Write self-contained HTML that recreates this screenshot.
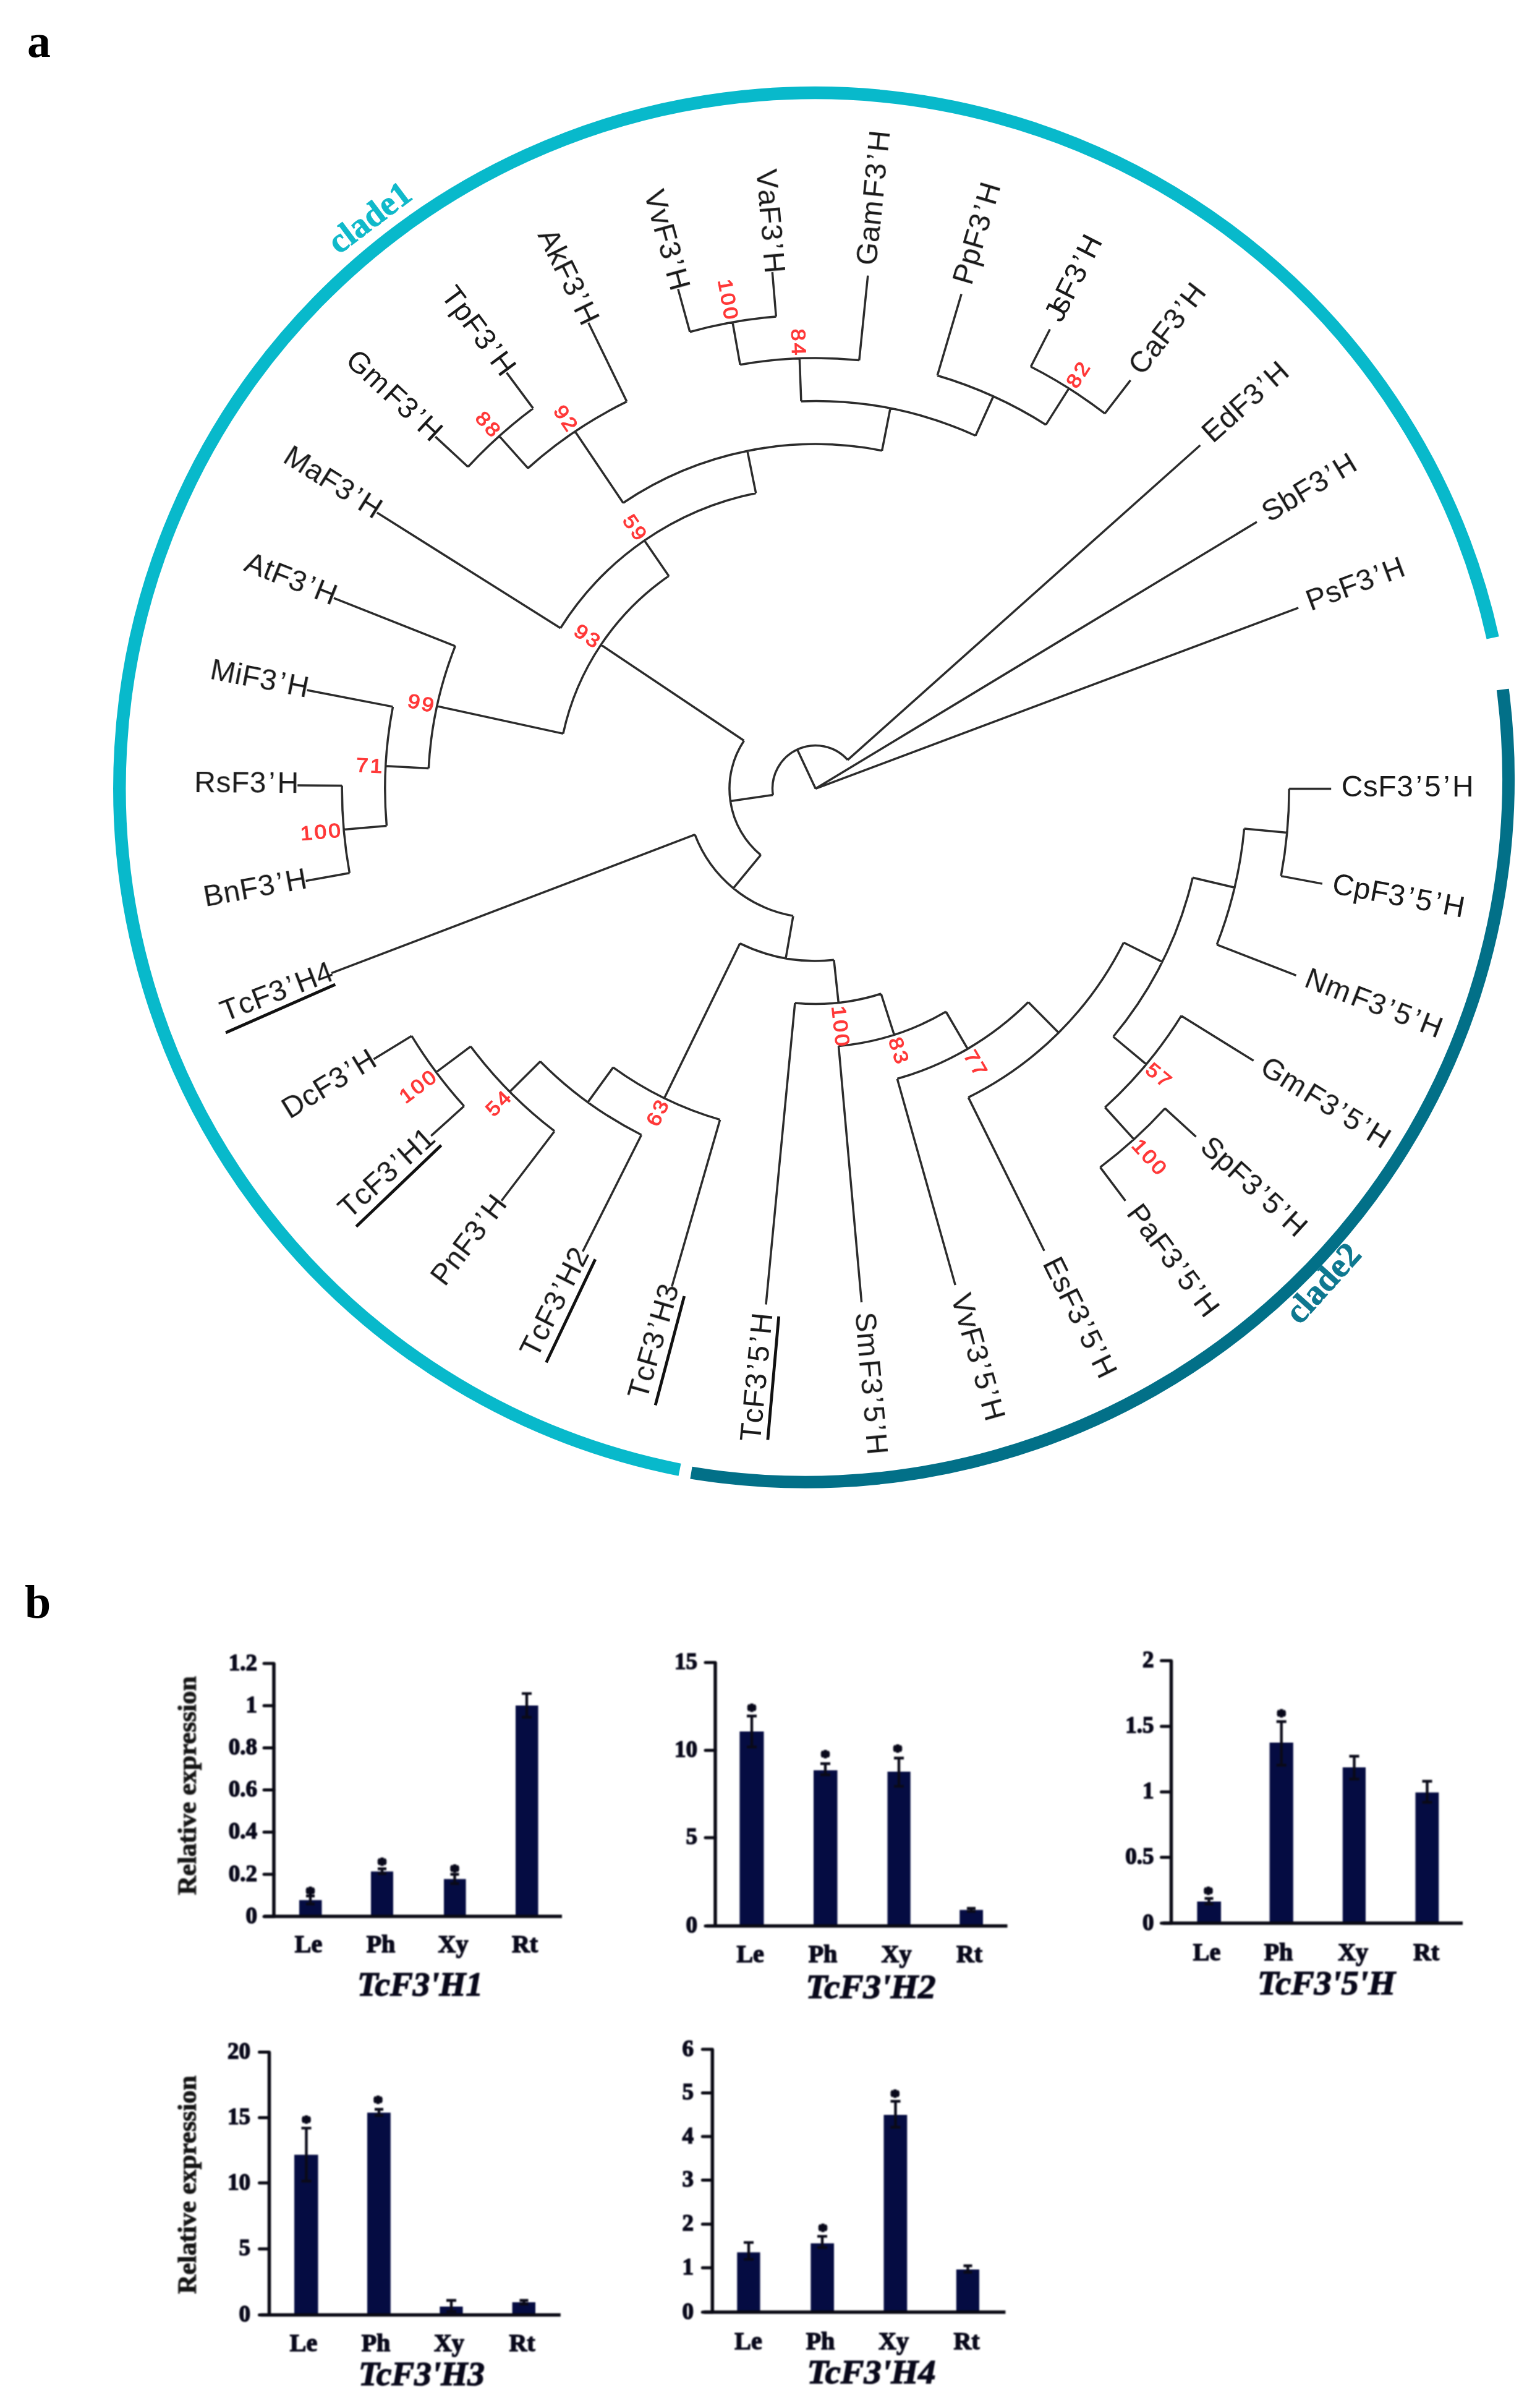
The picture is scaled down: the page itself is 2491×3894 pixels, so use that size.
<!DOCTYPE html>
<html><head><meta charset="utf-8"><title>Phylogenetic tree and expression</title>
<style>
html,body{margin:0;padding:0;background:#fff;}
body{width:2491px;height:3894px;overflow:hidden;}
svg{display:block;}
</style></head><body>
<svg width="2491" height="3894" viewBox="0 0 2491 3894">
<rect width="2491" height="3894" fill="#fff"/>
<g style="filter:blur(0.7px)">
<path d="M1319.2 1275.3L1289.7 1212.2M1319.2 1275.3L2033 844M1319.2 1275.3L2100.2 982.8M1371.2 1228.9A69.6 69.6 0 0 0 1250.3 1285.4M1371.2 1228.9L1941.4 720M1250.3 1285.4L1181.4 1295.4M1203.5 1197.8A139.3 139.3 0 0 0 1230.5 1382.7M1203.5 1197.8L972.1 1042.7M1230.5 1382.7L1186.2 1436.4M1081.8 931.4A417.8 417.8 0 0 0 910.9 1186.4M1081.8 931.4L1042.3 874.1M910.9 1186.4L706.8 1141.9M1222.7 797.5A487.5 487.5 0 0 0 906.6 1015.7M906.6 1015.7L609.9 829M1222.7 797.5L1208.9 729.2M1426.7 728.7A557.1 557.1 0 0 0 1008 813.2M1426.7 728.7L1440.1 660.3M1008 813.2L930.2 697.7M1578 704.5A626.8 626.8 0 0 0 1295.9 649M1578 704.5L1606.7 641M1295.9 649L1293.3 579.4M1691.8 686.9A696.4 696.4 0 0 0 1516.2 607.3M1691.8 686.9L1729 628.1M1516.2 607.3L1555.1 475.4M1787.1 668.7A766 766 0 0 0 1667.4 593M1787.1 668.7L1828.6 614.9M1667.4 593L1698.3 532.5M1389.8 582.5A696.4 696.4 0 0 0 1197.2 589.7M1389.8 582.5L1403.8 445.6M1197.2 589.7L1185 521.1M1255.3 511.9A766 766 0 0 0 1115.9 536.7M1255.3 511.9L1249.3 440.2M1115.9 536.7L1096.8 467.4M1013.9 649.4A696.4 696.4 0 0 0 854 757.1M1013.9 649.4L951.8 522.1M854 757.1L807.5 705.2M862.4 660.4A766 766 0 0 0 757 755M862.4 660.4L819.5 602.6M757 755L704.2 706.1M736.3 1044.9A626.8 626.8 0 0 0 693.3 1242.4M736.3 1044.9L539.9 967.2M693.3 1242.4L623.8 1238.8M635.5 1142.9A696.4 696.4 0 0 0 625.4 1335.4M635.5 1142.9L496.5 1116M625.4 1335.4L556 1341.4M553.2 1270.6A766 766 0 0 0 565.4 1411.7M553.2 1270.6L481.2 1270.1M565.4 1411.7L494.6 1424.5M1124 1349.7A208.9 208.9 0 0 0 1283 1481.1M1124 1349.7L536.1 1573.7M1283 1481.1L1271 1549.7M1196.9 1525.6A278.6 278.6 0 0 0 1348.9 1552.3M1196.9 1525.6L1074.6 1775.8M1348.9 1552.3L1356.3 1621.5M991.8 1726.1A557.1 557.1 0 0 0 1164.7 1810.6M991.8 1726.1L950.9 1782.4M1164.7 1810.6L1086.8 2080.4M873.9 1716.4A626.8 626.8 0 0 0 1037.5 1835.2M873.9 1716.4L824.5 1765.4M1037.5 1835.2L942.6 2023.9M761.4 1692.2A696.4 696.4 0 0 0 897 1829.2M761.4 1692.2L705.6 1733.9M897 1829.2L811.2 1941.8M665.8 1675.2A766 766 0 0 0 750.6 1788.7M665.8 1675.2L604.5 1712.8M750.6 1788.7L697.2 1836.9M1285.9 1621.9A348.2 348.2 0 0 0 1425.1 1607M1285.9 1621.9L1239 2109.5M1425.1 1607L1446.3 1673.3M1356.5 1691.5A417.8 417.8 0 0 0 1530.1 1636M1356.5 1691.5L1393.6 2106M1530.1 1636L1565.2 1696.1M1451.3 1744.5A487.5 487.5 0 0 0 1663.3 1620.6M1451.3 1744.5L1545.2 2078.1M1663.3 1620.6L1712.4 1670M1566.3 1774.6A557.1 557.1 0 0 0 1817.6 1524.2M1566.3 1774.6L1689.1 2022.8M1817.6 1524.2L1879.9 1555.4M1800.7 1676.5A626.8 626.8 0 0 0 1929.2 1419.3M1800.7 1676.5L1854.2 1721.1M1929.2 1419.3L1997 1435.3M1787.4 1790.8A696.4 696.4 0 0 0 1910.8 1642.7M1787.4 1790.8L1834.2 1842.4M1910.8 1642.7L2027.7 1715.3M1779.6 1887.6A766 766 0 0 0 1884.4 1792.4M1779.6 1887.6L1820.4 1941.9M1884.4 1792.4L1934.6 1838.2M1968.3 1527.6A696.4 696.4 0 0 0 2012.6 1339.9M1968.3 1527.6L2096.6 1577.4M2012.6 1339.9L2081.9 1346.4M2072.1 1416.6A766 766 0 0 0 2085.2 1275.6M2072.1 1416.6L2138.9 1429.1M2085.2 1275.6L2153.2 1275.6" fill="none" stroke="#2c2c2c" stroke-width="3.5" stroke-linejoin="miter" stroke-linecap="butt"/>
<g font-family="'Liberation Sans', Arial, sans-serif" font-size="48" fill="#1a1a1a" letter-spacing="0.5" style="font-kerning:none">
<text transform="translate(2169.7 1275.6) rotate(-360) scale(1.0 1)" y="12">CsF3<tspan dx="3.5">’</tspan><tspan dx="3">5</tspan><tspan dx="3.5">’</tspan><tspan dx="3">H</tspan></text>
<text transform="translate(2115.7 977) rotate(-20.5) scale(1.0 1)" y="12">PsF3<tspan dx="3.5">’</tspan><tspan dx="3">H</tspan></text>
<text transform="translate(2047.2 835.5) rotate(-31.1) scale(1.0 1)" y="12">SbF3<tspan dx="3.5">’</tspan><tspan dx="3">H</tspan></text>
<text transform="translate(1953.8 709) rotate(-41.7) scale(1.0 1)" y="12">EdF3<tspan dx="3.5">’</tspan><tspan dx="3">H</tspan></text>
<text transform="translate(1838.7 601.9) rotate(-52.4) scale(1.0 1)" y="12">CaF3<tspan dx="3.5">’</tspan><tspan dx="3">H</tspan></text>
<text transform="translate(1705.8 517.8) rotate(-63) scale(1.0 1)" y="12">J<tspan dx="-9">s</tspan>F3<tspan dx="3.5">’</tspan><tspan dx="3">H</tspan></text>
<text transform="translate(1559.8 459.5) rotate(-73.6) scale(1.0 1)" y="12">PpF3<tspan dx="3.5">’</tspan><tspan dx="3">H</tspan></text>
<text transform="translate(1405.5 429.2) rotate(-84.2) scale(1.0 1)" y="12">Gam<tspan dx="4">F</tspan>3<tspan dx="3.5">’</tspan><tspan dx="3">H</tspan></text>
<text transform="translate(1249.5 442.7) rotate(85.2) scale(1.0 1)" y="12" text-anchor="end">VaF3<tspan dx="3.5">’</tspan><tspan dx="3">H</tspan></text>
<text transform="translate(1097.4 469.8) rotate(74.6) scale(1.0 1)" y="12" text-anchor="end">VvF3<tspan dx="3.5">’</tspan><tspan dx="3">H</tspan></text>
<text transform="translate(952.9 524.4) rotate(64) scale(1.0 1)" y="12" text-anchor="end">AkF3<tspan dx="3.5">’</tspan><tspan dx="3">H</tspan></text>
<text transform="translate(821 604.6) rotate(53.4) scale(1.0 1)" y="12" text-anchor="end">TpF3<tspan dx="3.5">’</tspan><tspan dx="3">H</tspan></text>
<text transform="translate(706 707.8) rotate(42.8) scale(1.0 1)" y="12" text-anchor="end">Gm<tspan dx="4">F</tspan>3<tspan dx="3.5">’</tspan><tspan dx="3">H</tspan></text>
<text transform="translate(612 830.4) rotate(32.2) scale(1.0 1)" y="12" text-anchor="end">MaF3<tspan dx="3.5">’</tspan><tspan dx="3">H</tspan></text>
<text transform="translate(542.2 968.2) rotate(21.6) scale(1.0 1)" y="12" text-anchor="end">AtF3<tspan dx="3.5">’</tspan><tspan dx="3">H</tspan></text>
<text transform="translate(498.9 1116.4) rotate(11) scale(1.0 1)" y="12" text-anchor="end">MiF3<tspan dx="3.5">’</tspan><tspan dx="3">H</tspan></text>
<text transform="translate(483.7 1270.2) rotate(0.4) scale(1.0 1)" y="12" text-anchor="end">RsF3<tspan dx="3.5">’</tspan><tspan dx="3">H</tspan></text>
<text transform="translate(497 1424) rotate(-10.3) scale(1.0 1)" y="12" text-anchor="end">BnF3<tspan dx="3.5">’</tspan><tspan dx="3">H</tspan></text>
<text transform="translate(538.5 1572.8) rotate(-20.9) scale(1.0 1)" y="12" text-anchor="end">TcF3<tspan dx="3.5">’</tspan><tspan dx="3">H</tspan>4</text>
<text transform="translate(606.6 1711.5) rotate(-31.5) scale(1.0 1)" y="12" text-anchor="end">DcF3<tspan dx="3.5">’</tspan><tspan dx="3">H</tspan></text>
<text transform="translate(699.1 1835.2) rotate(-42.1) scale(1.0 1)" y="12" text-anchor="end">TcF3<tspan dx="3.5">’</tspan><tspan dx="3">H</tspan>1</text>
<text transform="translate(812.7 1939.8) rotate(-52.7) scale(1.0 1)" y="12" text-anchor="end">PnF3<tspan dx="3.5">’</tspan><tspan dx="3">H</tspan></text>
<text transform="translate(943.7 2021.7) rotate(-63.3) scale(1.0 1)" y="12" text-anchor="end">TcF3<tspan dx="3.5">’</tspan><tspan dx="3">H</tspan>2</text>
<text transform="translate(1087.5 2078) rotate(-73.9) scale(1.0 1)" y="12" text-anchor="end">TcF3<tspan dx="3.5">’</tspan><tspan dx="3">H</tspan>3</text>
<text transform="translate(1237.7 2122.9) rotate(-84.5) scale(1.0 1)" y="12" text-anchor="end">TcF3<tspan dx="3.5">’</tspan><tspan dx="3">5</tspan><tspan dx="3.5">’</tspan><tspan dx="3">H</tspan></text>
<text transform="translate(1395 2122.4) rotate(-275.1) scale(1.0 1)" y="12">Sm<tspan dx="4">F</tspan>3<tspan dx="3.5">’</tspan><tspan dx="3">5</tspan><tspan dx="3.5">’</tspan><tspan dx="3">H</tspan></text>
<text transform="translate(1549.7 2094) rotate(-285.7) scale(1.0 1)" y="12">VvF3<tspan dx="3.5">’</tspan><tspan dx="3">5</tspan><tspan dx="3.5">’</tspan><tspan dx="3">H</tspan></text>
<text transform="translate(1696.5 2037.6) rotate(-296.3) scale(1.0 1)" y="12">EsF3<tspan dx="3.5">’</tspan><tspan dx="3">5</tspan><tspan dx="3.5">’</tspan><tspan dx="3">H</tspan></text>
<text transform="translate(1830.3 1955.1) rotate(-306.9) scale(1.0 1)" y="12">PaF3<tspan dx="3.5">’</tspan><tspan dx="3">5</tspan><tspan dx="3.5">’</tspan><tspan dx="3">H</tspan></text>
<text transform="translate(1946.7 1849.4) rotate(-317.5) scale(1.0 1)" y="12">SpF3<tspan dx="3.5">’</tspan><tspan dx="3">5</tspan><tspan dx="3.5">’</tspan><tspan dx="3">H</tspan></text>
<text transform="translate(2041.7 1724) rotate(-328.2) scale(1.0 1)" y="12">Gm<tspan dx="4">F</tspan>3<tspan dx="3.5">’</tspan><tspan dx="3">5</tspan><tspan dx="3.5">’</tspan><tspan dx="3">H</tspan></text>
<text transform="translate(2111.9 1583.4) rotate(-338.8) scale(1.0 1)" y="12">Nm<tspan dx="4">F</tspan>3<tspan dx="3.5">’</tspan><tspan dx="3">5</tspan><tspan dx="3.5">’</tspan><tspan dx="3">H</tspan></text>
<text transform="translate(2155.1 1432.2) rotate(-349.4) scale(1.0 1)" y="12">CpF3<tspan dx="3.5">’</tspan><tspan dx="3">5</tspan><tspan dx="3.5">’</tspan><tspan dx="3">H</tspan></text>
</g>
<path d="M365.1 1670L542.3 1592M576.2 1983.6L713.7 1851.9M883.6 2203.2L962.9 2036.4M1060.1 2272.3L1106.8 2096M1241.9 2328.4L1259.7 2128.8" stroke="#111" stroke-width="4.8" fill="none"/>
<g font-family="'Liberation Sans', Arial, sans-serif" font-size="32" fill="#ff3838" stroke="#ff3838" stroke-width="1.1" letter-spacing="3">
<text transform="translate(970.5 1041.5) rotate(33.8) scale(1.1 1)" y="11.5" text-anchor="end">93</text>
<text transform="translate(1041.1 872.5) rotate(55.4) scale(1.1 1)" y="11.5" text-anchor="end">59</text>
<text transform="translate(1731.7 623.9) rotate(-57.7) scale(1.1 1)" y="11.5">82</text>
<text transform="translate(1293.2 577.4) rotate(87.9) scale(1.1 1)" y="11.5" text-anchor="end">84</text>
<text transform="translate(1184.7 519.1) rotate(79.9) scale(1.1 1)" y="11.5" text-anchor="end">100</text>
<text transform="translate(929.1 696) rotate(56) scale(1.1 1)" y="11.5" text-anchor="end">92</text>
<text transform="translate(806.2 703.7) rotate(48.1) scale(1.1 1)" y="11.5" text-anchor="end">88</text>
<text transform="translate(704.8 1141.5) rotate(12.3) scale(1.1 1)" y="11.5" text-anchor="end">99</text>
<text transform="translate(621.8 1238.7) rotate(3) scale(1.1 1)" y="11.5" text-anchor="end">71</text>
<text transform="translate(554 1341.6) rotate(-5) scale(1.1 1)" y="11.5" text-anchor="end">100</text>
<text transform="translate(1073.7 1777.6) rotate(-64) scale(1.1 1)" y="11.5" text-anchor="end">63</text>
<text transform="translate(823 1766.8) rotate(-44.7) scale(1.1 1)" y="11.5" text-anchor="end">54</text>
<text transform="translate(704 1735.1) rotate(-36.8) scale(1.1 1)" y="11.5" text-anchor="end">100</text>
<text transform="translate(1356.8 1626.5) rotate(-276.1) scale(1.1 1)" y="11.5">100</text>
<text transform="translate(1447.8 1678.1) rotate(-287.7) scale(1.1 1)" y="11.5">83</text>
<text transform="translate(1567.7 1700.5) rotate(-300.3) scale(1.1 1)" y="11.5">77</text>
<text transform="translate(1858.1 1724.3) rotate(-320.2) scale(1.1 1)" y="11.5">57</text>
<text transform="translate(1837.6 1846.1) rotate(-312.2) scale(1.1 1)" y="11.5">100</text>
</g>
<path d="M2414.6 1031.4A1123.9 1123.9 0 1 0 1099.5 2376.7" fill="none" stroke="#08b9cb" stroke-width="20.5"/>
<path d="M1118 2381.6A1137 1137 0 0 0 2430.8 1114.9" fill="none" stroke="#027088" stroke-width="20"/>
<text transform="translate(608.7 366.3) rotate(-37)" font-family="'Liberation Serif', 'Times New Roman', serif" font-weight="bold" font-size="56" fill="#10b9ca" stroke="#10b9ca" stroke-width="0.9" text-anchor="middle">clade1</text>
<text transform="translate(2153.5 2087) rotate(-48)" font-family="'Liberation Serif', 'Times New Roman', serif" font-weight="bold" font-size="56" fill="#0e7890" stroke="#0e7890" stroke-width="0.9" text-anchor="middle">clade2</text>
<text x="44" y="92" font-family="'Liberation Serif', serif" font-weight="bold" font-size="76" fill="#000">a</text>
<text x="40" y="2616" font-family="'Liberation Serif', serif" font-weight="bold" font-size="76" fill="#000">b</text>
</g>
<g style="filter:blur(1.1px)">
<rect x="484" y="3072.7" width="36.5" height="26.3" fill="#050c42"/><rect x="600" y="3026.4" width="36" height="72.6" fill="#050c42"/><rect x="718" y="3038.6" width="35.6" height="60.4" fill="#050c42"/><rect x="834" y="2758" width="36.5" height="341" fill="#050c42"/><path d="M502 3066V3079M495 3066H509M495 3079H509" stroke="#0a0a18" stroke-width="4.4" fill="none"/><path d="M618 3022V3030M611 3022H625M611 3030H625" stroke="#0a0a18" stroke-width="4.4" fill="none"/><path d="M735.5 3031V3046M728.5 3031H742.5M728.5 3046H742.5" stroke="#0a0a18" stroke-width="4.4" fill="none"/><path d="M852 2738.6V2777M844 2738.6H860M844 2777H860" stroke="#0a0a18" stroke-width="4.4" fill="none"/><path d="M443 2690V3101.7M427 3099H909" stroke="#0a0a14" stroke-width="5.5" stroke-linejoin="round" fill="none"/><path d="M427 2690H443M427 2758.2H443M427 2826.4H443M427 2894.6H443M427 2962.8H443M427 3031H443M427 3099.2H443" stroke="#0a0a14" stroke-width="5" stroke-linecap="round" fill="none"/><g font-family="'Liberation Serif', 'Times New Roman', serif" font-weight="bold" fill="#08081a" stroke="#08081a" stroke-width="1.5"><text x="416" y="2700.5" font-size="37" text-anchor="end">1.2</text><text x="416" y="2768.7" font-size="37" text-anchor="end">1</text><text x="416" y="2836.9" font-size="37" text-anchor="end">0.8</text><text x="416" y="2905.1" font-size="37" text-anchor="end">0.6</text><text x="416" y="2973.3" font-size="37" text-anchor="end">0.4</text><text x="416" y="3041.5" font-size="37" text-anchor="end">0.2</text><text x="416" y="3109.7" font-size="37" text-anchor="end">0</text><text x="499" y="3157" font-size="40" text-anchor="middle">Le</text><text x="616" y="3157" font-size="40" text-anchor="middle">Ph</text><text x="733" y="3157" font-size="40" text-anchor="middle">Xy</text><text x="849" y="3157" font-size="40" text-anchor="middle">Rt</text><text x="502" y="3071.2" font-size="30" text-anchor="middle" stroke="#08081a" stroke-width="2.6" stroke-linejoin="round">*</text><text x="618" y="3024.2" font-size="30" text-anchor="middle" stroke="#08081a" stroke-width="2.6" stroke-linejoin="round">*</text><text x="735.5" y="3034.7" font-size="30" text-anchor="middle" stroke="#08081a" stroke-width="2.6" stroke-linejoin="round">*</text><text x="679.5" y="3226.8" font-size="55" font-style="italic" text-anchor="middle" textLength="203" lengthAdjust="spacingAndGlyphs">TcF3'H1</text><text transform="translate(316.7 2887.5) rotate(-90)" font-size="43" stroke="#141414" stroke-width="1" fill="#141414" text-anchor="middle" textLength="354" lengthAdjust="spacingAndGlyphs">Relative expression</text></g>
<rect x="1196.4" y="2800" width="39.1" height="314.5" fill="#050c42"/><rect x="1316" y="2862.7" width="38.5" height="251.8" fill="#050c42"/><rect x="1435.5" y="2865" width="37.2" height="249.5" fill="#050c42"/><rect x="1552.3" y="3088.6" width="37.7" height="25.9" fill="#050c42"/><path d="M1216 2775V2825M1208 2775H1224M1208 2825H1224" stroke="#0a0a18" stroke-width="4.4" fill="none"/><path d="M1335 2852V2870M1327 2852H1343M1327 2870H1343" stroke="#0a0a18" stroke-width="4.4" fill="none"/><path d="M1454 2843V2888.6M1446 2843H1462M1446 2888.6H1462" stroke="#0a0a18" stroke-width="4.4" fill="none"/><path d="M1571 3086V3091M1564 3086H1578M1564 3091H1578" stroke="#0a0a18" stroke-width="4.4" fill="none"/><path d="M1157 2688.6V3117.2M1143 3114.5H1629.5" stroke="#0a0a14" stroke-width="5.5" stroke-linejoin="round" fill="none"/><path d="M1141 2688.6H1157M1141 2830.5H1157M1141 2971.8H1157M1141 3114.5H1157" stroke="#0a0a14" stroke-width="5" stroke-linecap="round" fill="none"/><g font-family="'Liberation Serif', 'Times New Roman', serif" font-weight="bold" fill="#08081a" stroke="#08081a" stroke-width="1.5"><text x="1128" y="2699.1" font-size="37" text-anchor="end">15</text><text x="1128" y="2841" font-size="37" text-anchor="end">10</text><text x="1128" y="2982.3" font-size="37" text-anchor="end">5</text><text x="1128" y="3125" font-size="37" text-anchor="end">0</text><text x="1213.6" y="3173" font-size="40" text-anchor="middle">Le</text><text x="1331" y="3173" font-size="40" text-anchor="middle">Ph</text><text x="1450" y="3173" font-size="40" text-anchor="middle">Xy</text><text x="1568" y="3173" font-size="40" text-anchor="middle">Rt</text><text x="1216" y="2774.7" font-size="30" text-anchor="middle" stroke="#08081a" stroke-width="2.6" stroke-linejoin="round">*</text><text x="1335" y="2850.2" font-size="30" text-anchor="middle" stroke="#08081a" stroke-width="2.6" stroke-linejoin="round">*</text><text x="1452" y="2841.2" font-size="30" text-anchor="middle" stroke="#08081a" stroke-width="2.6" stroke-linejoin="round">*</text><text x="1408.6" y="3231" font-size="55" font-style="italic" text-anchor="middle" textLength="210" lengthAdjust="spacingAndGlyphs">TcF3'H2</text></g>
<rect x="1936.4" y="3075" width="38.6" height="35" fill="#050c42"/><rect x="2053.6" y="2818" width="38.2" height="292" fill="#050c42"/><rect x="2171.8" y="2858" width="37.2" height="252" fill="#050c42"/><rect x="2289.5" y="2898.6" width="37.8" height="211.4" fill="#050c42"/><path d="M1955.5 3070V3079M1948.5 3070H1962.5M1948.5 3079H1962.5" stroke="#0a0a18" stroke-width="4.4" fill="none"/><path d="M2072.7 2784V2854.5M2064.7 2784H2080.7M2064.7 2854.5H2080.7" stroke="#0a0a18" stroke-width="4.4" fill="none"/><path d="M2190.5 2840V2877M2182.5 2840H2198.5M2182.5 2877H2198.5" stroke="#0a0a18" stroke-width="4.4" fill="none"/><path d="M2308.5 2880.5V2914.5M2300.5 2880.5H2316.5M2300.5 2914.5H2316.5" stroke="#0a0a18" stroke-width="4.4" fill="none"/><path d="M1894.5 2685.5V3112.7M1881 3110H2366" stroke="#0a0a14" stroke-width="5.5" stroke-linejoin="round" fill="none"/><path d="M1878.5 2685.5H1894.5M1878.5 2791.8H1894.5M1878.5 2897.7H1894.5M1878.5 3003.6H1894.5M1878.5 3110H1894.5" stroke="#0a0a14" stroke-width="5" stroke-linecap="round" fill="none"/><g font-family="'Liberation Serif', 'Times New Roman', serif" font-weight="bold" fill="#08081a" stroke="#08081a" stroke-width="1.5"><text x="1866.5" y="2696" font-size="37" text-anchor="end">2</text><text x="1866.5" y="2802.3" font-size="37" text-anchor="end">1.5</text><text x="1866.5" y="2908.2" font-size="37" text-anchor="end">1</text><text x="1866.5" y="3014.1" font-size="37" text-anchor="end">0.5</text><text x="1866.5" y="3120.5" font-size="37" text-anchor="end">0</text><text x="1952" y="3169.5" font-size="40" text-anchor="middle">Le</text><text x="2068" y="3169.5" font-size="40" text-anchor="middle">Ph</text><text x="2188.6" y="3169.5" font-size="40" text-anchor="middle">Xy</text><text x="2307" y="3169.5" font-size="40" text-anchor="middle">Rt</text><text x="1954.5" y="3071.2" font-size="30" text-anchor="middle" stroke="#08081a" stroke-width="2.6" stroke-linejoin="round">*</text><text x="2072.7" y="2783.7" font-size="30" text-anchor="middle" stroke="#08081a" stroke-width="2.6" stroke-linejoin="round">*</text><text x="2145.5" y="3225" font-size="55" font-style="italic" text-anchor="middle" textLength="223" lengthAdjust="spacingAndGlyphs">TcF3'5'H</text></g>
<rect x="476" y="3484.5" width="38.5" height="259.1" fill="#050c42"/><rect x="594" y="3416.4" width="37.8" height="327.2" fill="#050c42"/><rect x="711.4" y="3730" width="37.2" height="13.6" fill="#050c42"/><rect x="828.6" y="3723" width="37.4" height="20.6" fill="#050c42"/><path d="M495.5 3441.4V3527M487.5 3441.4H503.5M487.5 3527H503.5" stroke="#0a0a18" stroke-width="4.4" fill="none"/><path d="M613 3411V3421M606 3411H620M606 3421H620" stroke="#0a0a18" stroke-width="4.4" fill="none"/><path d="M730 3720V3738M722 3720H738M722 3738H738" stroke="#0a0a18" stroke-width="4.4" fill="none"/><path d="M847.5 3720V3726M840.5 3720H854.5M840.5 3726H854.5" stroke="#0a0a18" stroke-width="4.4" fill="none"/><path d="M435.5 3318.6V3746.3M421.8 3743.6H906.8" stroke="#0a0a14" stroke-width="5.5" stroke-linejoin="round" fill="none"/><path d="M419.5 3318.6H435.5M419.5 3424.5H435.5M419.5 3530H435.5M419.5 3636.8H435.5M419.5 3743.6H435.5" stroke="#0a0a14" stroke-width="5" stroke-linecap="round" fill="none"/><g font-family="'Liberation Serif', 'Times New Roman', serif" font-weight="bold" fill="#08081a" stroke="#08081a" stroke-width="1.5"><text x="405" y="3329.1" font-size="37" text-anchor="end">20</text><text x="405" y="3435" font-size="37" text-anchor="end">15</text><text x="405" y="3540.5" font-size="37" text-anchor="end">10</text><text x="405" y="3647.3" font-size="37" text-anchor="end">5</text><text x="405" y="3754.1" font-size="37" text-anchor="end">0</text><text x="491" y="3802" font-size="40" text-anchor="middle">Le</text><text x="608" y="3802" font-size="40" text-anchor="middle">Ph</text><text x="726.4" y="3802" font-size="40" text-anchor="middle">Xy</text><text x="844.5" y="3802" font-size="40" text-anchor="middle">Rt</text><text x="495.5" y="3440.6" font-size="30" text-anchor="middle" stroke="#08081a" stroke-width="2.6" stroke-linejoin="round">*</text><text x="611.4" y="3408.7" font-size="30" text-anchor="middle" stroke="#08081a" stroke-width="2.6" stroke-linejoin="round">*</text><text x="682" y="3856.6" font-size="55" font-style="italic" text-anchor="middle" textLength="204" lengthAdjust="spacingAndGlyphs">TcF3'H3</text><text transform="translate(316.7 3533) rotate(-90)" font-size="43" stroke="#141414" stroke-width="1" fill="#141414" text-anchor="middle" textLength="353" lengthAdjust="spacingAndGlyphs">Relative expression</text></g>
<rect x="1192.3" y="3642.3" width="37.2" height="96.7" fill="#050c42"/><rect x="1311.4" y="3627.7" width="37.6" height="111.3" fill="#050c42"/><rect x="1429.5" y="3420" width="37.8" height="319" fill="#050c42"/><rect x="1546.8" y="3670" width="37.2" height="69" fill="#050c42"/><path d="M1211 3626.4V3653.6M1203 3626.4H1219M1203 3653.6H1219" stroke="#0a0a18" stroke-width="4.4" fill="none"/><path d="M1330 3616.4V3634.5M1322 3616.4H1338M1322 3634.5H1338" stroke="#0a0a18" stroke-width="4.4" fill="none"/><path d="M1448.5 3398V3440M1440.5 3398H1456.5M1440.5 3440H1456.5" stroke="#0a0a18" stroke-width="4.4" fill="none"/><path d="M1565.5 3664V3674.5M1558.5 3664H1572.5M1558.5 3674.5H1572.5" stroke="#0a0a18" stroke-width="4.4" fill="none"/><path d="M1152.3 3314V3741.7M1138.6 3739H1626.4" stroke="#0a0a14" stroke-width="5.5" stroke-linejoin="round" fill="none"/><path d="M1136.3 3314H1152.3M1136.3 3384.5H1152.3M1136.3 3455H1152.3M1136.3 3525.5H1152.3M1136.3 3596.8H1152.3M1136.3 3667.3H1152.3M1136.3 3739H1152.3" stroke="#0a0a14" stroke-width="5" stroke-linecap="round" fill="none"/><g font-family="'Liberation Serif', 'Times New Roman', serif" font-weight="bold" fill="#08081a" stroke="#08081a" stroke-width="1.5"><text x="1122" y="3324.5" font-size="37" text-anchor="end">6</text><text x="1122" y="3395" font-size="37" text-anchor="end">5</text><text x="1122" y="3465.5" font-size="37" text-anchor="end">4</text><text x="1122" y="3536" font-size="37" text-anchor="end">3</text><text x="1122" y="3607.3" font-size="37" text-anchor="end">2</text><text x="1122" y="3677.8" font-size="37" text-anchor="end">1</text><text x="1122" y="3749.5" font-size="37" text-anchor="end">0</text><text x="1210.5" y="3798.5" font-size="40" text-anchor="middle">Le</text><text x="1327" y="3798.5" font-size="40" text-anchor="middle">Ph</text><text x="1445.5" y="3798.5" font-size="40" text-anchor="middle">Xy</text><text x="1563.6" y="3798.5" font-size="40" text-anchor="middle">Rt</text><text x="1331" y="3616" font-size="30" text-anchor="middle" stroke="#08081a" stroke-width="2.6" stroke-linejoin="round">*</text><text x="1447.7" y="3398.7" font-size="30" text-anchor="middle" stroke="#08081a" stroke-width="2.6" stroke-linejoin="round">*</text><text x="1409.5" y="3853.5" font-size="55" font-style="italic" text-anchor="middle" textLength="208" lengthAdjust="spacingAndGlyphs">TcF3'H4</text></g>
</g>
</svg>
</body></html>
